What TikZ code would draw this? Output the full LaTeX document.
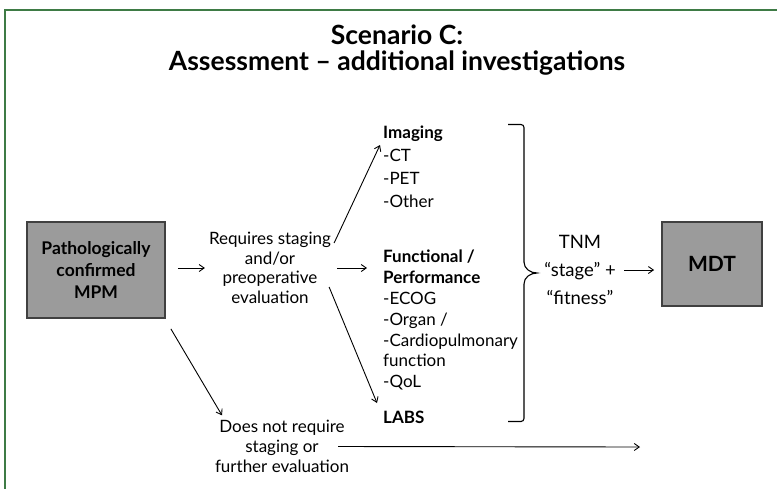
\documentclass[tikz,border=0pt]{standalone}
\usepackage{fontspec}
\setmainfont{Lato}
\usetikzlibrary{arrows.meta,calc}
\definecolor{framegreen}{HTML}{3E7B45}
\definecolor{boxgray}{HTML}{9B9B9B}
\definecolor{boxedge}{HTML}{404040}
\tikzset{
  arr/.style={-{Straight Barb[length=5pt,width=7pt]}, line width=0.9pt},
  graybox/.style={draw=boxedge, fill=boxgray, line width=1.8pt, inner sep=0pt, align=center, font=\fontsize{17.5}{22}\selectfont\bfseries},
  txt/.style={inner sep=0pt, align=center, font=\fontsize{17}{19.7}\selectfont},
  listtxt/.style={inner sep=0pt, align=left, anchor=north west},
}
\begin{document}
\begin{tikzpicture}[x=1pt,y=-1pt]
\useasboundingbox (0,0) rectangle (777,488);
\fill[white] (0,0) rectangle (777,488);
% frame
\draw[framegreen, line width=2.2pt] (5,490) -- (5,10) -- (780,10);
% title
\node[inner sep=0pt, align=center, font=\fontsize{26.5}{26}\selectfont\bfseries] (title) at (397,50)
  {Scenario C:\\Assessment -- additional investigations};
% boxes
\node[graybox, minimum width=138pt, minimum height=96pt] (mpm) at (96,270) {Pathologically\\confirmed\\MPM};
\node[graybox, minimum width=100pt, minimum height=84pt, font=\fontsize{21}{24}\selectfont\bfseries] (mdt) at (712,264) {MDT};
% texts
\node[txt] (req) at (270,268) {Requires staging\\and/or\\preoperative\\evaluation};
\node[txt] (dnr) at (282,446.5) {Does not require\\staging or\\further evaluation};
\node[listtxt, font=\fontsize{17}{23}\selectfont] (img) at (383,126) {\textbf{Imaging}\\-CT\\-PET\\-Other};
\node[listtxt, font=\fontsize{17}{20.8}\selectfont] (func) at (383,250) {\textbf{Functional /}\\\textbf{Performance}\\-ECOG\\-Organ /\\-Cardiopulmonary\\function\\-QoL};
\node[listtxt, font=\fontsize{17}{18}\selectfont\bfseries] (labs) at (383,411) {LABS};
\node[txt, font=\fontsize{18.5}{28}\selectfont] (tnm) at (580,270) {TNM\\``stage'' +\\``fitness''};
% brace
\draw[line width=1.1pt, rounded corners=3pt] (508,124.5) -- (524,124.5) -- (524,262);
\draw[line width=1.1pt] (524,262) to[out=-90,in=180] (537,273) to[out=180,in=90] (524,284);
\draw[line width=1.1pt, rounded corners=3pt] (524,284) -- (524,421.5) -- (508,421.5);
\coordinate (bracetip) at (537,273);
\coordinate (dnrend) at (640,447);
% connectors
\draw[arr] ([xshift=12pt]mpm.east |- req.east) -- ([xshift=-4pt]req.west);
\draw[arr] ([shift={(3,-25)}]req.east) -- ([shift={(-3,19)}]img.north west);
\draw[arr] ([xshift=6pt]req.east) -- ($(req.east -| func.west)+(-16,0)$);
\draw[arr] ([shift={(-2,19)}]req.east) -- ([shift={(-6,-8)}]labs.north west);
\draw[arr] ([shift={(5,10)}]mpm.south east) -- ([shift={(-60,-5)}]dnr.north);
\draw[arr] ([xshift=56pt]dnr.center) -- (dnrend);
\draw[arr] ([xshift=-37pt]mdt.west |- tnm.east) -- ([xshift=-7pt]mdt.west |- tnm.east);
\end{tikzpicture}
\end{document}
